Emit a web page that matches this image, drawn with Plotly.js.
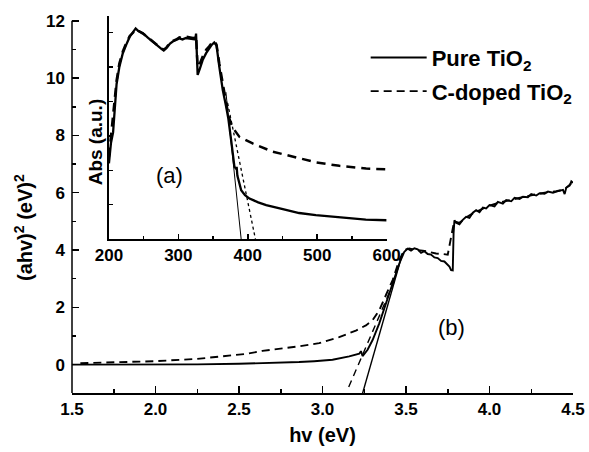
<!DOCTYPE html>
<html>
<head>
<meta charset="utf-8">
<script src="https://cdn.plot.ly/plotly-3.0.1.min.js"></script>
<style>html,body{margin:0;padding:0;background:#fff;}#chart{width:589px;height:452px;}</style>
</head>
<body>
<div id="chart"></div>
<script>
// ---- Main plot (b): (ahv)^2 vs hv ----
var pureHv = [1.5,1.75,2.0,2.25,2.5,2.7,2.86,2.95,3.06,3.16,3.22,3.23,3.24,3.27,3.30,3.34,3.38,3.42,3.46,3.49,3.51,3.53,3.55,3.57,3.59,3.61,3.63,3.65,3.67,3.69,3.71,3.73,3.75,3.76,3.77,3.78,3.785,3.79,3.80,3.82,3.84,3.86,3.88,3.90,3.92,3.94,3.96,3.98,4.00,4.03,4.05,4.08,4.10,4.13,4.15,4.18,4.20,4.23,4.25,4.28,4.30,4.33,4.35,4.38,4.40,4.42,4.44,4.45,4.46,4.48,4.49,4.5];
var pureAhv = [0.0,0.0,0.0,0.01,0.03,0.05,0.09,0.12,0.17,0.29,0.38,0.47,0.30,0.52,0.86,1.44,2.14,2.84,3.53,3.94,4.05,3.98,4.06,4.02,3.90,3.96,3.86,3.84,3.74,3.72,3.62,3.60,3.50,3.42,3.30,3.29,4.6,5.04,4.95,4.90,5.05,5.16,5.12,5.30,5.39,5.32,5.48,5.45,5.57,5.52,5.68,5.62,5.74,5.70,5.82,5.78,5.86,5.84,5.95,5.90,5.98,5.96,6.04,6.00,6.04,6.08,6.10,5.95,6.18,6.25,6.40,6.35];
var dopedHv = [1.55,1.75,2.0,2.25,2.42,2.55,2.64,2.75,2.86,2.98,3.05,3.10,3.20,3.26,3.30,3.34,3.38,3.42,3.46,3.49,3.52,3.56,3.60,3.64,3.68,3.72,3.75,3.785,3.79,3.82,3.86,3.90,3.95,4.00,4.05,4.10,4.15,4.20,4.25,4.30,4.35,4.40,4.45,4.5];
var dopedAhv = [0.05,0.08,0.12,0.20,0.30,0.38,0.48,0.55,0.64,0.75,0.86,0.96,1.19,1.37,1.55,1.90,2.43,2.95,3.65,4.00,4.05,4.00,3.98,3.92,3.88,3.86,3.84,4.9,5.00,4.95,5.14,5.28,5.42,5.55,5.64,5.72,5.78,5.85,5.92,5.97,6.02,6.05,6.12,6.38];
// Tauc tangent lines (band gap extrapolation)
var pureFitHv = [3.24, 3.48];
var pureFitAhv = [-1.0, 3.9];
var dopedFitHv = [3.157, 3.44];
var dopedFitAhv = [-0.78, 3.05];

// ---- Inset (a): absorbance vs wavelength ----
var pureNm = [200,203,206,208,211,215,220,225,230,235,238.5,242,249,256,263.5,270,276,279,283,288,292,297,301.5,306,311,316,321,324.5,325.5,326.5,327.8,331,335,340,344.5,348,351.7,355,359,364,368.8,372,376,380.8,383,384,385,390.5,396,402.5,415,426.5,450.5,474,498,522,546,570,600];
var pureAbs = [2.2,2.8,3.1,3.8,4.5,5.0,5.4,5.65,5.88,6.02,6.12,6.05,5.98,5.85,5.74,5.62,5.52,5.48,5.55,5.68,5.74,5.78,5.83,5.80,5.84,5.82,5.80,5.80,5.97,5.5,4.77,4.95,5.2,5.4,5.54,5.64,5.71,5.62,5.0,4.33,3.85,3.5,2.88,2.1,2.05,2.1,1.85,1.42,1.28,1.18,1.07,0.99,0.87,0.76,0.70,0.65,0.61,0.57,0.55];
var dopedNm = [200,203,206,208,211,215,220,225,230,235,238.5,242,249,256,263.5,270,276,279,283,288,292,297,301.5,306,311,316,321,324.5,325.5,327.8,331,335,340,344.5,348,351.7,355,359,364,368.8,372,376,380.8,388,407,436,465,498.5,532,570.5,600];
var dopedAbs = [2.4,3.0,3.5,4.0,4.6,5.1,5.45,5.7,5.9,6.0,6.1,6.05,5.97,5.86,5.75,5.63,5.54,5.50,5.57,5.70,5.76,5.80,5.86,5.84,5.88,5.86,5.84,5.85,5.9,5.0,5.1,5.3,5.5,5.6,5.7,5.75,5.65,5.1,4.5,4.0,3.6,3.35,3.17,2.97,2.78,2.54,2.39,2.23,2.13,2.05,2.03];
var pureFitNm = [368.5, 390.5];
var pureFitAbs = [4.27, 0];
var dopedFitNm = [371, 411];
var dopedFitAbs = [3.95, 0];

var mainX = [1.5,2.0,2.5,3.0,3.5,4.0,4.5];
var mainXLabels = ['1.5','2.0','2.5','3.0','3.5','4.0','4.5'];
var mainY = [0,2,4,6,8,10,12];
var insetX = [200,300,400,500,600];

var FONT = '"Liberation Sans", Arial, Helvetica, sans-serif';
var black = '#000';

var traces = [
  {x: pureHv, y: pureAhv, mode:'lines', name:'Pure TiO<sub>2</sub>', legendgroup:'a',
   line:{color:black, width:1.9}},
  {x: dopedHv, y: dopedAhv, mode:'lines', name:'C-doped TiO<sub>2</sub>', legendgroup:'b',
   line:{color:black, width:1.9, dash:'8px,5px'}},
  {x: pureFitHv, y: pureFitAhv, mode:'lines', showlegend:false, line:{color:black, width:1.4}},
  {x: dopedFitHv, y: dopedFitAhv, mode:'lines', showlegend:false, line:{color:black, width:1.4, dash:'7px,5px'}},
  {x: pureNm, y: pureAbs, xaxis:'x2', yaxis:'y2', mode:'lines', showlegend:false, line:{color:black, width:2.3}},
  {x: dopedNm, y: dopedAbs, xaxis:'x2', yaxis:'y2', mode:'lines', showlegend:false, line:{color:black, width:2.5, dash:'9px,6px'}},
  {x: pureFitNm, y: pureFitAbs, xaxis:'x2', yaxis:'y2', mode:'lines', showlegend:false, line:{color:black, width:1}},
  {x: dopedFitNm, y: dopedFitAbs, xaxis:'x2', yaxis:'y2', mode:'lines', showlegend:false, line:{color:black, width:1.3, dash:'3px,3px'}}
];

var tickFont = {family: FONT, size: 17, color: black, weight: 'bold'};
var titleFont = {family: FONT, size: 20, color: black, weight: 'bold'};

var layout = {
  width: 589, height: 452,
  margin: {l:72, r:15, t:16, b:59},
  paper_bgcolor:'#fff', plot_bgcolor:'rgba(0,0,0,0)',
  font: {family: FONT, color: black},
  showlegend: true,
  legend: {x: 0.585, y: 0.945, xanchor:'left', yanchor:'top', bgcolor:'rgba(0,0,0,0)',
           font:{family: FONT, size: 22, color: black, weight:'bold'}, itemwidth: 56, tracegroupgap: 2},
  xaxis: {range:[1.5,4.5], domain:[0,1], showgrid:false, zeroline:false, showline:true, linecolor:black, linewidth:1.5,
          ticks:'inside', ticklen:7, tickwidth:1.5, tickcolor:black, tickvals: mainX, ticktext: mainXLabels,
          minor:{dtick:0.25, ticks:'inside', ticklen:4, tickwidth:1.5, tickcolor:black},
          tickfont: tickFont, anchor:'y',
          title:{text:'hv (eV)', font: titleFont, standoff: 10}},
  yaxis: {range:[-0.99,12.167], domain:[0,1], showgrid:false, zeroline:false, showline:false,
          ticks:'inside', ticklen:7, tickwidth:1.5, tickcolor:black, tickvals: mainY, ticklabelstandoff: 6,
          minor:{dtick:1, ticks:'inside', ticklen:4, tickwidth:1.5, tickcolor:black},
          tickfont: tickFont, anchor:'x'},
  xaxis2: {range:[200,600], domain:[0.0737,0.628], anchor:'y2', showgrid:false, zeroline:false, showline:true,
           linecolor:black, linewidth:1.5, ticks:'inside', ticklen:5, tickwidth:1.5, tickcolor:black, tickvals: insetX,
           minor:{dtick:50, ticks:'inside', ticklen:3, tickwidth:1.5, tickcolor:black},
           tickfont: {family: FONT, size: 17, color: black, weight:'bold'}},
  yaxis2: {range:[0,6.48], domain:[0.408,1], anchor:'x2', showgrid:false, zeroline:false, showline:true,
           linecolor:black, linewidth:1.5, ticks:'inside', ticklen:4, tickwidth:1.5, tickcolor:black, dtick:1,
           showticklabels:false},
  shapes: [
    {type:'line', xref:'x domain', yref:'y', x0:0, x1:0, y0:-0.99, y1:12, line:{color:black, width:1.5}}
  ],
  annotations: [
    {xref:'paper', yref:'paper', x:-0.098, y:0.44, text:'(ahv)<sup>2</sup> (eV)<sup>2</sup>', textangle:-90,
     showarrow:false, xanchor:'center', yanchor:'middle', font: titleFont},
    {xref:'paper', yref:'paper', x:0.046, y:0.665, text:'Abs (a.u.)', textangle:-90,
     showarrow:false, xanchor:'center', yanchor:'middle', font: {family: FONT, size: 19, color: black, weight:'bold'}},
    {xref:'x2', yref:'y2', x:287, y:1.86, text:'(a)', showarrow:false, font:{family: FONT, size: 22, color: black}},
    {xref:'x', yref:'y', x:3.77, y:1.3, text:'(b)', showarrow:false, font:{family: FONT, size: 22, color: black}}
  ]
};

Plotly.newPlot('chart', traces, layout, {displayModeBar:false, staticPlot:true});
</script>
</body>
</html>
